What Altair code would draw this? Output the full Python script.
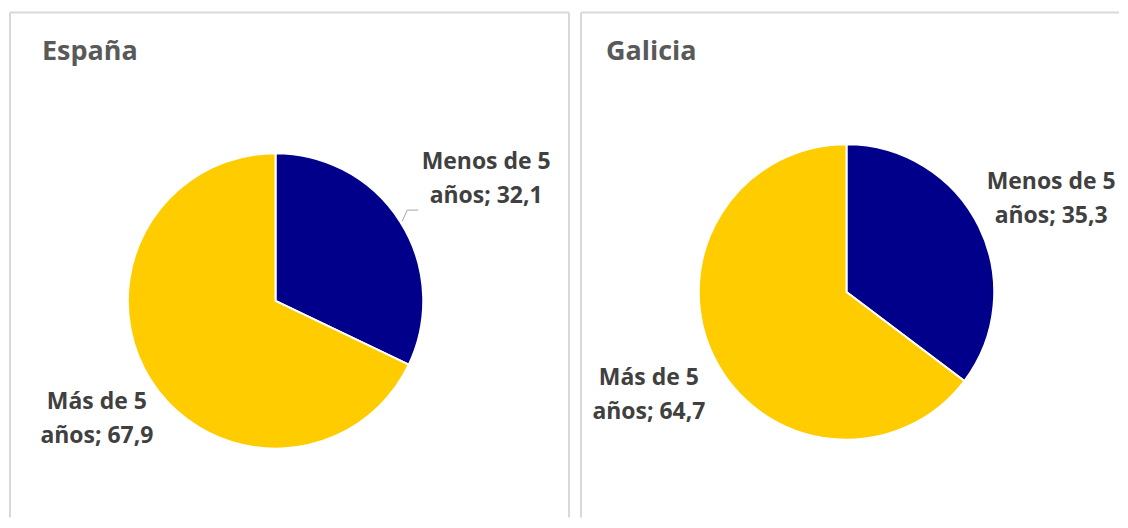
import altair as alt
import pandas as pd

categories = ["Menos de 5 años", "Más de 5 años"]
regions = ["España", "Galicia"]
espana_values = [32.1, 67.9]
galicia_values = [35.3, 64.7]
colors = ["#00008B", "#FFCC00"]

LEFT_W = 560
RIGHT_W = 539
PANEL_H = 506
FONT = "Open Sans"
BORDER = "#D9D9D9"


def make_label(cat, val):
    head, tail = cat.rsplit(" ", 1)
    return f"{head}\n{tail}; {str(val).replace('.', ',')}"


def rule(x1, x2, y1, y2, color, width):
    return alt.Chart(pd.DataFrame({"k": [0]})).mark_rule(color=color, strokeWidth=width).encode(
        x=alt.value(x1), x2=alt.value(x2), y=alt.value(y1), y2=alt.value(y2)
    )


def panel(region, values, width, center, label_pos, title_pos, leader=None, right_border=True):
    df = pd.DataFrame({
        "category": categories,
        "value": values,
        "order": list(range(len(categories))),
        "label": [make_label(c, v) for c, v in zip(categories, values)],
    })
    base = alt.Chart(df)
    layers = [
        rule(0, width, 0, 0, BORDER, 2),
        rule(0, 0, 0, PANEL_H, BORDER, 2),
    ]
    if right_border:
        layers.append(rule(width, width, 0, PANEL_H, BORDER, 2))
    arc = base.mark_arc(outerRadius=148, stroke="white", strokeWidth=2).encode(
        theta=alt.Theta("value:Q", stack=True),
        color=alt.Color("category:N", scale=alt.Scale(domain=categories, range=colors), legend=None),
        order=alt.Order("order:Q"),
        x=alt.value(center[0]),
        y=alt.value(center[1]),
    )
    layers.append(arc)
    for cat, (lx, ly) in zip(categories, label_pos):
        t = base.transform_filter(alt.datum.category == cat).mark_text(
            font=FONT, fontWeight="bold", fontSize=23, color="#404040",
            align="center", baseline="alphabetic", lineBreak="\n", lineHeight=34,
        ).encode(text="label:N", x=alt.value(lx), y=alt.value(ly))
        layers.append(t)
    title = alt.Chart(pd.DataFrame({"region": [region]})).mark_text(
        font=FONT, fontWeight="bold", fontSize=27, color="#595959",
        align="left", baseline="alphabetic",
    ).encode(text="region:N", x=alt.value(title_pos[0]), y=alt.value(title_pos[1]))
    layers.append(title)
    if leader:
        for (x1, y1), (x2, y2) in zip(leader[:-1], leader[1:]):
            layers.append(rule(x1, x2, y1, y2, "#A6A6A6", 1))
    return alt.layer(*layers).properties(width=width, height=PANEL_H)


left = panel("España", espana_values, LEFT_W, (266, 289), [(477, 157), (87, 397)], (32, 48),
             leader=[(393, 209), (398, 198), (409, 198)])
right = panel("Galicia", galicia_values, RIGHT_W, (266, 280), [(471, 177), (68, 373)], (25, 48),
              right_border=False)

chart = alt.hconcat(left, right, spacing=10).properties(
    padding={"left": 1, "top": 3, "right": 0, "bottom": 0}
).configure_view(stroke=None)

chart.save("out.html", embed_options={"renderer": "svg", "actions": False})
